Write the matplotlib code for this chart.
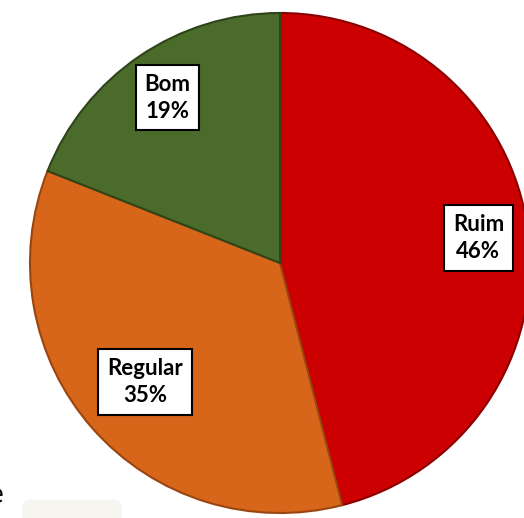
import numpy
import matplotlib
matplotlib.use('Agg')
from matplotlib import pyplot
from matplotlib.patches import FancyBboxPatch

categorias = ['Ruim', 'Regular', 'Bom']
percentuais = [46, 35, 19]
cores = ['#cc0000', '#d8661a', '#4b6b2b']
bordas = ['#8a0000', '#9a4510', '#2e4419']
# distancia de cada rotulo ao centro (fracao do raio)
dist_rotulos = [0.80, 0.72, 0.80]

pyplot.rcParams['font.family'] = ['Lato', 'DejaVu Sans']

fig = pyplot.figure(figsize=(5.24, 5.18), dpi=100)
ax = fig.add_axes([30 / 524, 5 / 518, 500 / 524, 500 / 518])

rotulos = [f'{c}\n{p}%' for c, p in zip(categorias, percentuais)]
wedges, texts = ax.pie(percentuais, labels=rotulos, colors=cores,
                       startangle=90, counterclock=False,
                       wedgeprops=dict(linewidth=1.5))
for w, b in zip(wedges, bordas):
  w.set_edgecolor(b)
for w, t, d in zip(wedges, texts, dist_rotulos):
  ang = numpy.deg2rad((w.theta1 + w.theta2) / 2)
  t.set_position((d * numpy.cos(ang), d * numpy.sin(ang)))
  t.set_ha('center')
  t.set_va('center')
  t.set_fontsize(16)
  t.set_fontweight('bold')
  t.set_linespacing(1.35)
  t.set_bbox(dict(facecolor='white', edgecolor='black', linewidth=1.5, boxstyle='square,pad=0.4'))
ax.set_xlim(-1, 1)
ax.set_ylim(-1, 1)
ax.set_aspect('equal')

# restos de elementos cortados na borda da imagem
fig.text(-0.022, 0.045, 'e', fontsize=20, color='black', ha='left', va='center')
fig.patches.append(FancyBboxPatch((22 / 524, -0.02), 100 / 524, 0.055,
                                  boxstyle='round,pad=0,rounding_size=0.015',
                                  transform=fig.transFigure, facecolor='#f6f5f0',
                                  edgecolor='none', zorder=-1))

fig.savefig('out.png', dpi=100)
